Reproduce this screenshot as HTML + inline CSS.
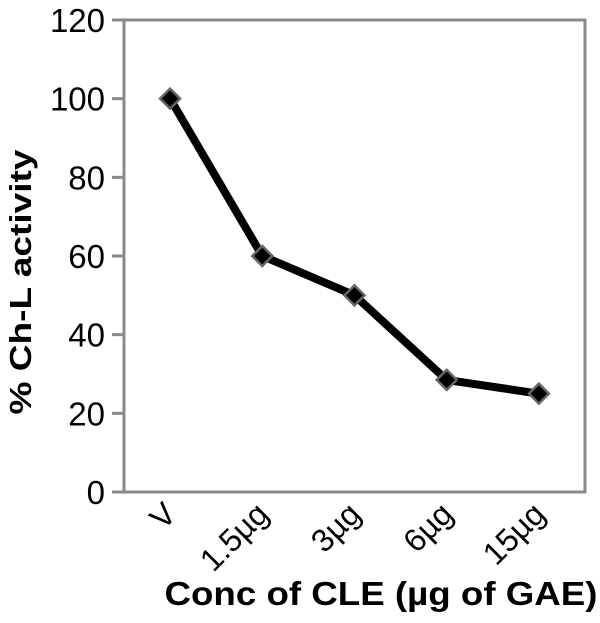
<!DOCTYPE html>
<html><head><meta charset="utf-8"><style>
body{margin:0;background:#fff}
svg text{font-family:"Liberation Sans",Arial,sans-serif}
</style></head><body>
<svg width="600" height="618" viewBox="0 0 600 618">
<g id="frame"></g>
<g id="yaxis"></g>
<g id="xaxis"></g>
<g id="series"></g>
<text transform="translate(31,282) rotate(-90)" text-anchor="middle" font-size="31" font-weight="bold" textLength="265" lengthAdjust="spacingAndGlyphs">% Ch-L activity</text>
<text x="381" y="605" text-anchor="middle" font-size="33" font-weight="bold" textLength="433" lengthAdjust="spacingAndGlyphs">Conc of CLE (µg of GAE)</text>
</svg>
<script>
const categories=["V","1.5µg","3µg","6µg","15µg"];
const values=[100,60,50,28.5,25];
const yTicks=[0,20,40,60,80,100,120];
const L=124,R=585,T=20,B=492,yMax=120;
const ns="http://www.w3.org/2000/svg";
function y(v){return B-(v/yMax)*(B-T);}
function x(i){const w=(R-L)/categories.length;return L+w*(i+0.5);}
function mk(tag,attrs,parent){const e=document.createElementNS(ns,tag);for(const k in attrs)e.setAttribute(k,attrs[k]);document.getElementById(parent).appendChild(e);return e;}
const f=mk("rect",{x:L,y:T,width:R-L,height:B-T,fill:"none",stroke:"#8a8a8a","stroke-width":3},"frame");


yTicks.forEach(t=>{
 const ln=mk("line",{x1:L-12,x2:L,y1:y(t),y2:y(t),stroke:"#8a8a8a","stroke-width":3},"yaxis");
 
 
 const tx=mk("text",{x:L-19,y:y(t)+12,"text-anchor":"end","font-size":33},"yaxis");
 tx.textContent=t;
 
 
});
categories.forEach((c,i)=>{
 const tx=mk("text",{transform:`translate(${x(i)+8},${B+24}) rotate(-45)`,"text-anchor":"end","font-size":32},"xaxis");
 tx.textContent=c;
 
 
});
const pl=mk("polyline",{points:values.map((v,i)=>x(i)+","+y(v)).join(" "),fill:"none",stroke:"#000","stroke-width":8,"stroke-linejoin":"round"},"series");


values.forEach((v,i)=>{
 const cx=x(i),cy=y(v),s=10;
 const p=mk("polygon",{points:`${cx},${cy-s} ${cx+s},${cy} ${cx},${cy+s} ${cx-s},${cy}`,fill:"#000",stroke:"#666","stroke-width":2.5},"series");
 
 
});
</script>
</body></html>
